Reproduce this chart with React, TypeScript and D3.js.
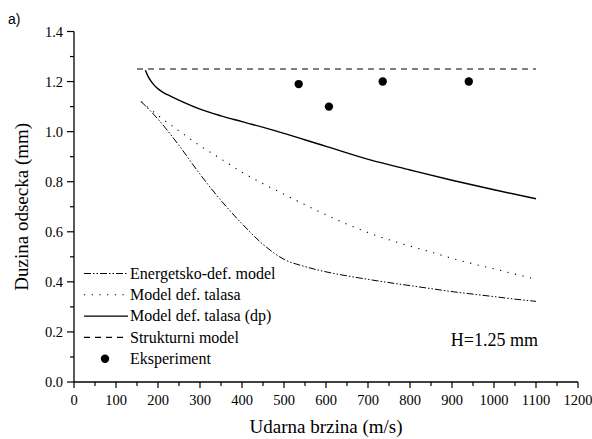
import React from "react";
import * as d3 from "d3";

const xTicks = [0, 100, 200, 300, 400, 500, 600, 700, 800, 900, 1000, 1100, 1200];
const yTicks = [0.0, 0.2, 0.4, 0.6, 0.8, 1.0, 1.2, 1.4];

const energX = [160, 200, 250, 300, 350, 400, 450, 500, 550, 600, 650, 700, 750, 800, 850, 900, 950, 1000, 1050, 1100];
const energY = [1.12, 1.05, 0.945, 0.83, 0.725, 0.632, 0.55, 0.49, 0.461, 0.44, 0.424, 0.41, 0.397, 0.385, 0.373, 0.361, 0.351, 0.341, 0.331, 0.322];

const talasX = [160, 200, 250, 300, 350, 400, 450, 500, 550, 600, 650, 700, 750, 800, 850, 900, 950, 1000, 1050, 1100];
const talasY = [1.12, 1.065, 1.003, 0.944, 0.891, 0.838, 0.792, 0.75, 0.708, 0.668, 0.63, 0.597, 0.568, 0.543, 0.519, 0.494, 0.472, 0.452, 0.431, 0.411];

const dpX = [170, 176, 185, 197, 212, 232, 260, 300, 350, 400, 474, 600, 705, 800, 900, 1000, 1100];
const dpY = [1.245, 1.222, 1.198, 1.175, 1.157, 1.14, 1.118, 1.09, 1.063, 1.04, 1.006, 0.941, 0.887, 0.847, 0.806, 0.768, 0.732];

const strukX = [150, 1100];
const strukY = [1.25, 1.25];

const expX = [535, 607, 735, 940];
const expY = [1.19, 1.1, 1.2, 1.2];

const legendLabels = ["Energetsko-def. model", "Model def. talasa", "Model def. talasa (dp)", "Strukturni model", "Eksperiment"];

export default function App() {
  const W = 592, H = 439;
  const x = d3.scaleLinear().domain([0, 1200]).range([74, 578]);
  const y = d3.scaleLinear().domain([0, 1.4]).range([382, 31.5]);
  const serif = "Liberation Serif, Tinos, Times New Roman, Times, DejaVu Serif, serif";

  const line = (xs: number[], ys: number[]) =>
    d3.line<number>().x((_, i) => x(xs[i])).y((d) => y(d)).curve(d3.curveMonotoneX)(ys) || "";

  const series = [
    { xs: energX, ys: energY, dash: "7,2,1.5,2,1.5,2", w: 1 },
    { xs: talasX, ys: talasY, dash: "1.2,6.5", w: 1.1 },
    { xs: dpX, ys: dpY, dash: "", w: 1.4 },
    { xs: strukX, ys: strukY, dash: "6,5", w: 1.1 },
  ];

  const xMinor = d3.range(50, 1200, 100);
  const yMinor = d3.range(0.1, 1.4, 0.2);

  return (
    <svg width={W} height={H} style={{ position: "absolute", left: 0, top: 0 }}>
      <rect width={W} height={H} fill="#fff" />
      <text x={8} y={24} style={{ fontFamily: "Liberation Sans, Arial, sans-serif", fontSize: 14 }}>a)</text>

      <line x1={x(0)} x2={x(0)} y1={y(1.4)} y2={y(0)} stroke="#000" strokeWidth={1.3} />
      <line x1={x(0)} x2={x(1200)} y1={y(0)} y2={y(0)} stroke="#000" strokeWidth={1.3} />
      {yTicks.map((t) => (
        <g key={"y" + t}>
          <line x1={x(0) - 7} x2={x(0)} y1={y(t)} y2={y(t)} stroke="#000" strokeWidth={1.2} />
          <text x={x(0) - 11} y={y(t) + 5} textAnchor="end" style={{ fontFamily: serif, fontSize: 14.5 }}>{t.toFixed(1)}</text>
        </g>
      ))}
      {yMinor.map((t) => (
        <line key={"ym" + t} x1={x(0) - 4} x2={x(0)} y1={y(t)} y2={y(t)} stroke="#000" strokeWidth={1.2} />
      ))}
      {xTicks.map((t) => (
        <g key={"x" + t}>
          <line x1={x(t)} x2={x(t)} y1={y(0)} y2={y(0) + 6} stroke="#000" strokeWidth={1.2} />
          <text x={x(t)} y={y(0) + 23} textAnchor="middle" style={{ fontFamily: serif, fontSize: 14.5 }}>{t}</text>
        </g>
      ))}
      {xMinor.map((t) => (
        <line key={"xm" + t} x1={x(t)} x2={x(t)} y1={y(0)} y2={y(0) + 4} stroke="#000" strokeWidth={1.2} />
      ))}

      <text x={326} y={433} textAnchor="middle" style={{ fontFamily: serif, fontSize: 19 }}>Udarna brzina (m/s)</text>
      <text transform={`translate(28,${(y(0) + y(1.4)) / 2}) rotate(-90)`} textAnchor="middle" style={{ fontFamily: serif, fontSize: 19 }}>Duzina odsecka (mm)</text>

      {series.map((s, i) => (
        <path key={i} d={line(s.xs, s.ys)} fill="none" stroke="#000" strokeWidth={s.w} strokeDasharray={s.dash || undefined} />
      ))}
      {expX.map((v, i) => (
        <circle key={"e" + i} cx={x(v)} cy={y(expY[i])} r={4.2} fill="#000" />
      ))}

      {legendLabels.map((lab, i) => {
        const ly = 273.5 + i * 21.3;
        return (
          <g key={lab}>
            {i < 4 ? (
              <line x1={84} x2={128} y1={ly} y2={ly} stroke="#000" strokeWidth={series[i].w} strokeDasharray={series[i].dash || undefined} />
            ) : (
              <circle cx={105} cy={ly} r={4.2} fill="#000" />
            )}
            <text x={130} y={ly + 5.3} style={{ fontFamily: serif, fontSize: 16 }}>{lab}</text>
          </g>
        );
      })}

      <text x={538} y={346} textAnchor="end" style={{ fontFamily: serif, fontSize: 18 }}>H=1.25 mm</text>
    </svg>
  );
}
